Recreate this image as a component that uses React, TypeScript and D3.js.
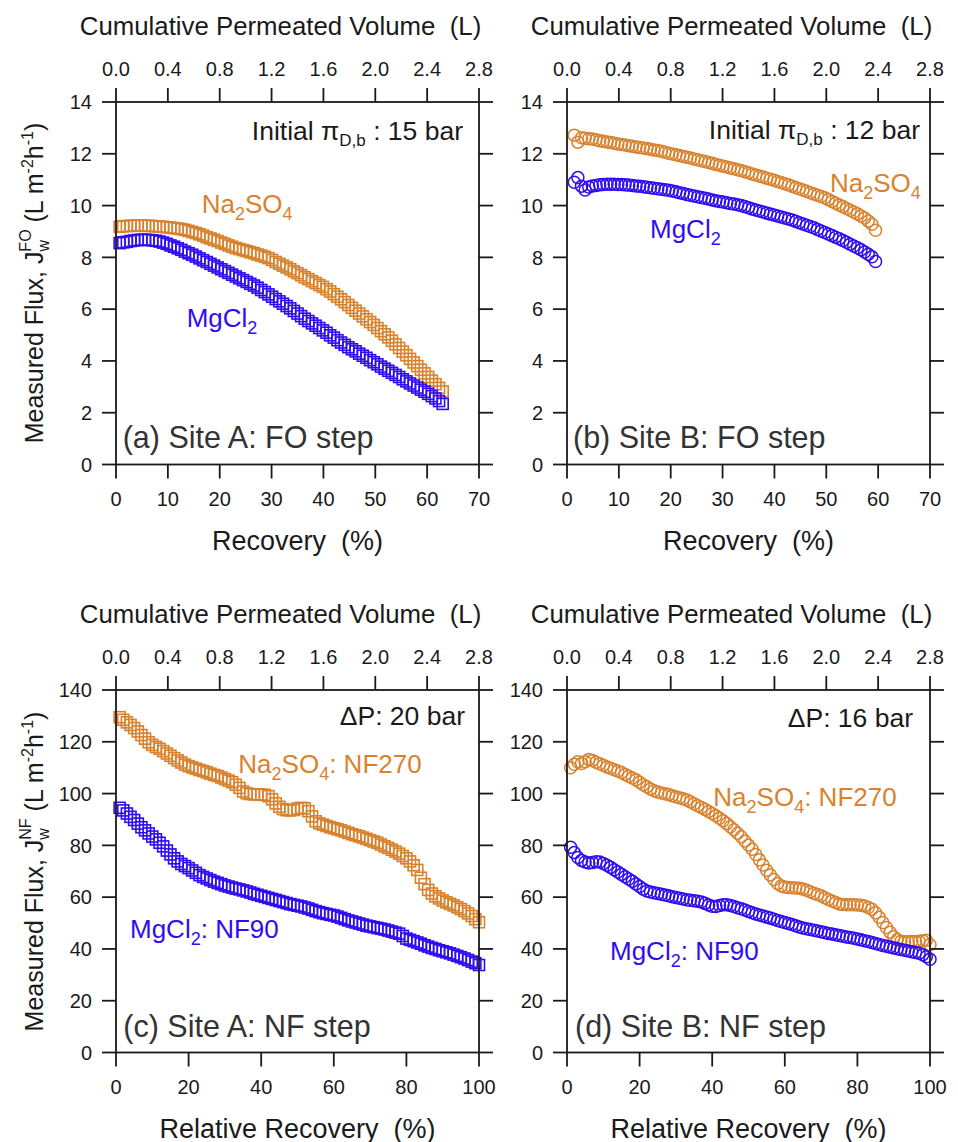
import React from "react";
import * as d3 from "d3";

// ---------- axis ticks ----------
const volTicks = [0, 0.4, 0.8, 1.2, 1.6, 2.0, 2.4, 2.8];
const recTicksFO = [0, 10, 20, 30, 40, 50, 60, 70];
const fluxTicksFO = [0, 2, 4, 6, 8, 10, 12, 14];
const recTicksNF = [0, 20, 40, 60, 80, 100];
const fluxTicksNF = [0, 20, 40, 60, 80, 100, 120, 140];

// ---------- (a) Site A: FO step ----------
const recA = [
  0.7, 1.4, 2.1, 2.8, 3.5, 4.2, 4.9, 5.6, 6.3, 7.0,
  7.7, 8.4, 9.1, 9.8, 10.5, 11.2, 11.9, 12.6, 13.3, 14.0,
  14.7, 15.4, 16.1, 16.8, 17.5, 18.2, 18.9, 19.6, 20.3, 21.0,
  21.7, 22.4, 23.1, 23.8, 24.5, 25.2, 25.9, 26.6, 27.3, 28.0,
  28.7, 29.4, 30.1, 30.8, 31.5, 32.2, 32.9, 33.6, 34.3, 35.0,
  35.7, 36.4, 37.1, 37.8, 38.5, 39.2, 39.9, 40.6, 41.3, 42.0,
  42.7, 43.4, 44.1, 44.8, 45.5, 46.2, 46.9, 47.6, 48.3, 49.0,
  49.7, 50.4, 51.1, 51.8, 52.5, 53.2, 53.9, 54.6, 55.3, 56.0,
  56.7, 57.4, 58.1, 58.8, 59.5, 60.2, 60.9, 61.6, 62.3, 63.0,
];
const fluxA_Na2SO4 = [
  9.18, 9.2, 9.21, 9.22, 9.22, 9.23, 9.22, 9.22, 9.22, 9.21,
  9.2, 9.19, 9.18, 9.16, 9.15, 9.13, 9.11, 9.09, 9.06, 9.02,
  8.98, 8.94, 8.89, 8.84, 8.78, 8.73, 8.68, 8.63, 8.57, 8.52,
  8.46, 8.41, 8.36, 8.32, 8.28, 8.24, 8.2, 8.16, 8.11, 8.07,
  8.02, 7.97, 7.9, 7.82, 7.75, 7.68, 7.61, 7.54, 7.46, 7.39,
  7.31, 7.23, 7.16, 7.08, 7.01, 6.93, 6.86, 6.77, 6.68, 6.58,
  6.48, 6.38, 6.27, 6.16, 6.05, 5.94, 5.83, 5.72, 5.61, 5.5,
  5.39, 5.27, 5.15, 5.03, 4.91, 4.78, 4.64, 4.5, 4.36, 4.22,
  4.08, 3.94, 3.8, 3.66, 3.52, 3.38, 3.24, 3.1, 2.96, 2.82,
];
const fluxA_MgCl2 = [
  8.55, 8.58, 8.6, 8.63, 8.65, 8.67, 8.68, 8.68, 8.67, 8.66,
  8.64, 8.61, 8.57, 8.52, 8.46, 8.41, 8.35, 8.29, 8.22, 8.16,
  8.1, 8.03, 7.96, 7.89, 7.82, 7.75, 7.68, 7.61, 7.54, 7.47,
  7.4, 7.33, 7.26, 7.19, 7.12, 7.05, 6.98, 6.91, 6.83, 6.74,
  6.66, 6.57, 6.48, 6.39, 6.3, 6.21, 6.12, 6.03, 5.93, 5.83,
  5.73, 5.63, 5.54, 5.45, 5.36, 5.27, 5.18, 5.09, 4.99, 4.9,
  4.8, 4.71, 4.62, 4.53, 4.45, 4.37, 4.28, 4.2, 4.12, 4.03,
  3.95, 3.87, 3.78, 3.7, 3.62, 3.54, 3.46, 3.38, 3.29, 3.21,
  3.13, 3.05, 2.97, 2.89, 2.81, 2.73, 2.64, 2.55, 2.45, 2.34,
];

// ---------- (b) Site B: FO step ----------
const recB = [
  1.4, 2.1, 2.8, 3.5, 4.2, 4.9, 5.6, 6.3, 7.0, 7.7,
  8.4, 9.1, 9.8, 10.5, 11.2, 11.9, 12.6, 13.3, 14.0, 14.7,
  15.4, 16.1, 16.8, 17.5, 18.2, 18.9, 19.6, 20.3, 21.0, 21.7,
  22.4, 23.1, 23.8, 24.5, 25.2, 25.9, 26.6, 27.3, 28.0, 28.7,
  29.4, 30.1, 30.8, 31.5, 32.2, 32.9, 33.6, 34.3, 35.0, 35.7,
  36.4, 37.1, 37.8, 38.5, 39.2, 39.9, 40.6, 41.3, 42.0, 42.7,
  43.4, 44.1, 44.8, 45.5, 46.2, 46.9, 47.6, 48.3, 49.0, 49.7,
  50.4, 51.1, 51.8, 52.5, 53.2, 53.9, 54.6, 55.3, 56.0, 56.7,
  57.4, 58.1, 58.8, 59.5,
];
const fluxB_Na2SO4 = [
  12.72, 12.45, 12.62, 12.6, 12.58, 12.57, 12.54, 12.5, 12.48, 12.46,
  12.44, 12.41, 12.38, 12.36, 12.34, 12.31, 12.29, 12.26, 12.24, 12.22,
  12.2, 12.18, 12.15, 12.13, 12.1, 12.06, 12.02, 11.99, 11.96, 11.93,
  11.9, 11.87, 11.84, 11.8, 11.77, 11.73, 11.7, 11.66, 11.63, 11.59,
  11.56, 11.52, 11.49, 11.45, 11.42, 11.38, 11.35, 11.31, 11.27, 11.22,
  11.18, 11.14, 11.1, 11.06, 11.02, 10.98, 10.93, 10.89, 10.84, 10.8,
  10.75, 10.7, 10.65, 10.6, 10.55, 10.5, 10.45, 10.4, 10.35, 10.3,
  10.23, 10.16, 10.09, 10.02, 9.96, 9.89, 9.82, 9.75, 9.68, 9.6,
  9.52, 9.4, 9.28, 9.05,
];
const fluxB_MgCl2 = [
  10.9, 11.08, 10.75, 10.6, 10.72, 10.76, 10.78, 10.8, 10.81, 10.82,
  10.82, 10.82, 10.81, 10.81, 10.8, 10.79, 10.78, 10.76, 10.75, 10.73,
  10.71, 10.69, 10.67, 10.65, 10.63, 10.61, 10.59, 10.56, 10.53, 10.5,
  10.47, 10.43, 10.4, 10.37, 10.34, 10.31, 10.28, 10.25, 10.22, 10.19,
  10.16, 10.14, 10.11, 10.08, 10.06, 10.03, 10.0, 9.96, 9.92, 9.87,
  9.83, 9.79, 9.75, 9.71, 9.67, 9.64, 9.6, 9.56, 9.52, 9.48,
  9.44, 9.39, 9.34, 9.29, 9.24, 9.19, 9.14, 9.08, 9.02, 8.96,
  8.9, 8.84, 8.78, 8.72, 8.65, 8.58, 8.51, 8.44, 8.37, 8.29,
  8.21, 8.12, 8.02, 7.84,
];

// ---------- (c), (d) NF steps ----------
const relRecNF = [
  1, 2, 3, 4, 5, 6, 7, 8, 9, 10,
  11, 12, 13, 14, 15, 16, 17, 18, 19, 20,
  21, 22, 23, 24, 25, 26, 27, 28, 29, 30,
  31, 32, 33, 34, 35, 36, 37, 38, 39, 40,
  41, 42, 43, 44, 45, 46, 47, 48, 49, 50,
  51, 52, 53, 54, 55, 56, 57, 58, 59, 60,
  61, 62, 63, 64, 65, 66, 67, 68, 69, 70,
  71, 72, 73, 74, 75, 76, 77, 78, 79, 80,
  81, 82, 83, 84, 85, 86, 87, 88, 89, 90,
  91, 92, 93, 94, 95, 96, 97, 98, 99, 100,
];
const fluxC_Na2SO4 = [
  129.5, 128.5, 127.5, 126.5, 125.3, 124, 122.6, 121.2, 119.8, 118.8,
  118, 117.3, 116.4, 115.5, 114.6, 113.7, 112.8, 112, 111.2, 110.6,
  110.1, 109.6, 109.1, 108.7, 108.2, 107.7, 107.2, 106.8, 106.2, 105.6,
  105, 104.4, 103.4, 102.2, 100.8, 100.1, 99.8, 99.7, 99.7, 99.6,
  99.5, 99.0, 97.8, 96.2, 94.9, 94.0, 93.6, 93.5, 93.7, 94.2,
  94.5, 94.3, 93.2, 91.2, 89.3, 88.5, 88.0, 87.5, 87.0, 86.6,
  86.2, 85.8, 85.3, 84.8, 84.3, 83.9, 83.5, 83.0, 82.5, 82.0,
  81.5, 81.0, 80.3, 79.6, 79.0, 78.3, 77.6, 76.8, 75.9, 75.0,
  73.8, 72.3, 70.5, 67.5, 65.0, 62.8, 61.4, 60.3, 59.5, 58.7,
  58.0, 57.4, 56.8, 56.1, 55.4, 54.6, 53.7, 52.7, 51.5, 50.3,
];
const fluxC_MgCl2 = [
  94.5, 93.5, 92.3, 91.0, 89.8, 88.4, 87.0, 85.8, 84.6, 83.4,
  82.3, 81.0, 79.6, 78.0, 76.5, 75.0, 73.8, 72.8, 72.0, 71.2,
  70.3, 69.4, 68.5, 67.8, 67.2, 66.6, 66.0, 65.5, 65.0, 64.5,
  64.1, 63.7, 63.3, 63.0, 62.6, 62.2, 61.8, 61.3, 60.9, 60.5,
  60.1, 59.7, 59.3, 58.9, 58.5, 58.1, 57.7, 57.3, 57.0, 56.7,
  56.4, 56.0, 55.6, 55.1, 54.6, 54.2, 53.8, 53.5, 53.2, 52.9,
  52.5, 52.0, 51.5, 51.0, 50.6, 50.2, 49.8, 49.4, 49.0, 48.7,
  48.4, 48.1, 47.8, 47.5, 47.1, 46.7, 46.3, 45.9, 45.0, 44.0,
  43.5, 43.0, 42.5, 42.0, 41.4, 40.9, 40.4, 40.0, 39.5, 39.1,
  38.7, 38.3, 37.8, 37.3, 36.8, 36.3, 35.7, 35.1, 34.5, 33.8,
];
const fluxD_Na2SO4 = [
  110.0, 111.3, 112.3, 111.6, 112.3, 113.2, 112.8, 112.1, 111.5, 110.9,
  110.3, 109.8, 109.2, 108.7, 108.1, 107.4, 106.7, 106.0, 105.3, 104.4,
  103.4, 102.6, 101.8, 101.1, 100.6, 100.2, 99.9, 99.6, 99.2, 98.8,
  98.4, 98.0, 97.5, 96.8, 96.1, 95.3, 94.6, 93.9, 93.1, 92.3,
  91.4, 90.5, 89.5, 88.4, 87.2, 86.0, 84.7, 83.3, 81.7, 80.1,
  78.5, 76.5, 74.4, 72.4, 70.4, 68.6, 66.8, 65.3, 64.3, 63.9,
  63.7, 63.6, 63.5, 63.4, 63.1, 62.7, 62.1, 61.5, 61.0, 60.5,
  59.8, 59.1, 58.5, 57.9, 57.4, 57.2, 57.1, 57.1, 57.1, 57.0,
  56.9, 56.6, 56.0, 55.3, 54.0, 52.2, 50.2, 48.3, 46.4, 44.7,
  43.6, 43.0, 42.8, 42.8, 42.9, 42.9, 43.0, 43.2, 43.4, 41.6,
];
const fluxD_MgCl2 = [
  79.3, 77.2, 75.3, 74.2, 73.6, 73.2, 73.4, 73.7, 73.6, 73.0,
  72.3, 71.5, 70.6, 69.7, 68.8, 67.9, 67.0, 66.1, 65.1, 64.1,
  63.1, 62.4, 62.0, 61.7, 61.4, 61.1, 60.8, 60.5, 60.2, 59.9,
  59.6, 59.3, 59.0, 58.8, 58.6, 58.4, 58.1, 57.6, 57.0, 56.5,
  56.4, 56.8, 57.1, 57.1, 56.8, 56.4, 55.9, 55.5, 55.0, 54.5,
  54.0, 53.5, 53.1, 52.7, 52.3, 51.9, 51.5, 51.0, 50.6, 50.2,
  49.8, 49.4, 49.0, 48.5, 48.1, 47.8, 47.5, 47.2, 46.9, 46.6,
  46.3, 46.0, 45.8, 45.5, 45.2, 44.9, 44.6, 44.4, 44.1, 43.8,
  43.5, 43.2, 42.9, 42.5, 42.1, 41.7, 41.3, 41.0, 40.7, 40.4,
  40.1, 39.8, 39.5, 39.2, 38.9, 38.6, 38.3, 37.8, 37.0, 36.0,
];

// ---------- styling ----------
const FONT = "'Liberation Sans', Arial, Helvetica, sans-serif";
const ORANGE = "#D9822D";
const BLUE = "#300CF2";
const INK = "#1a1a1a";
const PW = 363;
const PH = 362.5;
const TICK = 14;

type Series = { xs: number[]; ys: number[]; color: string; shape: "square" | "circle" };

function Markers({ s, x, y }: { s: Series; x: any; y: any }) {
  return (
    <g>
      {s.xs.map((xv, i) =>
        s.shape === "square" ? (
          <rect
            key={i}
            x={x(xv) - 5.5}
            y={y(s.ys[i]) - 5.5}
            width={11}
            height={11}
            fill="none"
            stroke={s.color}
            strokeWidth={1.6}
          />
        ) : (
          <circle key={i} cx={x(xv)} cy={y(s.ys[i])} r={6} fill="none" stroke={s.color} strokeWidth={1.5} />
        )
      )}
    </g>
  );
}

function Panel(props: {
  left: number;
  top: number;
  xMax: number;
  xTicks: number[];
  yMax: number;
  yTicks: number[];
  xTitle: string;
  series: Series[];
  children?: any;
}) {
  const { left, top, xMax, xTicks, yMax, yTicks, xTitle, series, children } = props;
  const x = d3.scaleLinear().domain([0, xMax]).range([0, PW]);
  const xt = d3.scaleLinear().domain([0, 2.8]).range([0, PW]);
  const y = d3.scaleLinear().domain([0, yMax]).range([PH, 0]);
  return (
    <g transform={`translate(${left},${top})`} fontFamily={FONT}>
      {series.map((s, i) => (
        <Markers key={i} s={s} x={x} y={y} />
      ))}
      <rect x={0} y={0} width={PW} height={PH} fill="none" stroke={INK} strokeWidth={1.8} />
      {/* bottom axis */}
      {xTicks.map((t) => (
        <g key={"b" + t}>
          <line x1={x(t)} x2={x(t)} y1={PH} y2={PH + TICK} stroke={INK} strokeWidth={1.8} />
          <text x={x(t)} y={PH + 41.5} textAnchor="middle" fontSize={20} fill={INK}>
            {t}
          </text>
        </g>
      ))}
      {/* top axis */}
      {volTicks.map((t) => (
        <g key={"t" + t}>
          <line x1={xt(t)} x2={xt(t)} y1={0} y2={-TICK} stroke={INK} strokeWidth={1.8} />
          <text x={xt(t)} y={-26} textAnchor="middle" fontSize={20} fill={INK}>
            {t.toFixed(1)}
          </text>
        </g>
      ))}
      {/* left / right axes */}
      {yTicks.map((t) => (
        <g key={"l" + t}>
          <line x1={-TICK} x2={0} y1={y(t)} y2={y(t)} stroke={INK} strokeWidth={1.8} />
          <line x1={PW} x2={PW + TICK} y1={y(t)} y2={y(t)} stroke={INK} strokeWidth={1.8} />
          <text x={-24} y={y(t)} dy="0.36em" textAnchor="end" fontSize={20} fill={INK}>
            {t}
          </text>
        </g>
      ))}
      <text x={PW / 2 - 17} y={-67} textAnchor="middle" fontSize={25.8} fill={INK}>
        {"Cumulative Permeated Volume\u00A0\u00A0(L)"}
      </text>
      <text x={PW / 2} y={PH + 85} textAnchor="middle" fontSize={27} fill={INK}>
        {xTitle}
      </text>
      {children}
    </g>
  );
}

function Na2SO4({ x, y, suffix }: { x: number; y: number; suffix?: string }) {
  return (
    <text x={x} y={y} fontSize={26} fill={ORANGE} fontFamily={FONT}>
      Na<tspan dy={7} fontSize={18}>2</tspan>
      <tspan dy={-7}>SO</tspan>
      <tspan dy={7} fontSize={18}>4</tspan>
      {suffix ? <tspan dy={-7}>{suffix}</tspan> : null}
    </text>
  );
}

function MgCl2({ x, y, suffix }: { x: number; y: number; suffix?: string }) {
  return (
    <text x={x} y={y} fontSize={26} fill={BLUE} fontFamily={FONT}>
      MgCl<tspan dy={7} fontSize={18}>2</tspan>
      {suffix ? <tspan dy={-7}>{suffix}</tspan> : null}
    </text>
  );
}

function PiLabel({ x, y, bar }: { x: number; y: number; bar: string }) {
  return (
    <text x={x} y={y} fontSize={26.5} fill={INK} textAnchor="end" fontFamily={FONT}>
      {"Initial \u03C0"}
      <tspan dy={6} fontSize={17}>
        D,b
      </tspan>
      <tspan dy={-6}>{" : " + bar}</tspan>
    </text>
  );
}

function YTitle({ cx, cy, sup }: { cx: number; cy: number; sup: string }) {
  return (
    <text
      transform={`translate(${cx},${cy}) rotate(-90)`}
      textAnchor="middle"
      fontSize={25}
      fill={INK}
      fontFamily={FONT}
    >
      {"Measured Flux, J"}
      <tspan dy={6} fontSize={16}>
        w
      </tspan>
      <tspan dx={-11.6} dy={-18} fontSize={16}>
        {sup}
      </tspan>
      <tspan dy={12}>{"\u00A0(L m"}</tspan>
      <tspan dy={-10} fontSize={16}>
        -2
      </tspan>
      <tspan dy={10}>h</tspan>
      <tspan dy={-10} fontSize={16}>
        -1
      </tspan>
      <tspan dy={10}>)</tspan>
    </text>
  );
}

function PanelLabel({ x, y, text }: { x: number; y: number; text: string }) {
  return (
    <text x={x} y={y} fontSize={30.5} fill="#333" fontFamily={FONT}>
      {text}
    </text>
  );
}

export default function App() {
  const sA: Series[] = [
    { xs: recA, ys: fluxA_Na2SO4, color: ORANGE, shape: "square" },
    { xs: recA, ys: fluxA_MgCl2, color: BLUE, shape: "square" },
  ];
  const sB: Series[] = [
    { xs: recB, ys: fluxB_Na2SO4, color: ORANGE, shape: "circle" },
    { xs: recB, ys: fluxB_MgCl2, color: BLUE, shape: "circle" },
  ];
  const sC: Series[] = [
    { xs: relRecNF, ys: fluxC_Na2SO4, color: ORANGE, shape: "square" },
    { xs: relRecNF, ys: fluxC_MgCl2, color: BLUE, shape: "square" },
  ];
  const sD: Series[] = [
    { xs: relRecNF, ys: fluxD_Na2SO4, color: ORANGE, shape: "circle" },
    { xs: relRecNF, ys: fluxD_MgCl2, color: BLUE, shape: "circle" },
  ];
  return (
    <svg
      width={958}
      height={1142}
      viewBox="0 0 958 1142"
      style={{ position: "absolute", left: 0, top: 0, background: "#fff" }}
    >
      <rect width={958} height={1142} fill="#fff" />
      <Panel left={116} top={102} xMax={70} xTicks={recTicksFO} yMax={14} yTicks={fluxTicksFO} xTitle={"Recovery\u00A0\u00A0(%)"} series={sA}>
        <PiLabel x={347} y={38} bar="15 bar" />
        <Na2SO4 x={85.7} y={111} />
        <MgCl2 x={70.7} y={224.7} />
        <PanelLabel x={6.7} y={346} text="(a) Site A: FO step" />
      </Panel>
      <Panel left={567} top={102} xMax={70} xTicks={recTicksFO} yMax={14} yTicks={fluxTicksFO} xTitle={"Recovery\u00A0\u00A0(%)"} series={sB}>
        <PiLabel x={353} y={37.3} bar="12 bar" />
        <Na2SO4 x={263} y={89.7} />
        <MgCl2 x={83} y={136.3} />
        <PanelLabel x={6} y={346} text="(b) Site B: FO step" />
      </Panel>
      <Panel left={116} top={690} xMax={100} xTicks={recTicksNF} yMax={140} yTicks={fluxTicksNF} xTitle={"Relative Recovery\u00A0\u00A0(%)"} series={sC}>
        <text x={349} y={35} fontSize={26.5} fill={INK} textAnchor="end" fontFamily={FONT}>
          {"\u0394P: 20 bar"}
        </text>
        <Na2SO4 x={122.3} y={83.3} suffix=": NF270" />
        <MgCl2 x={14} y={248.3} suffix=": NF90" />
        <PanelLabel x={7.3} y={346.7} text="(c) Site A: NF step" />
      </Panel>
      <Panel left={567} top={690} xMax={100} xTicks={recTicksNF} yMax={140} yTicks={fluxTicksNF} xTitle={"Relative Recovery\u00A0\u00A0(%)"} series={sD}>
        <text x={346} y={36.7} fontSize={26.5} fill={INK} textAnchor="end" fontFamily={FONT}>
          {"\u0394P: 16 bar"}
        </text>
        <Na2SO4 x={146.3} y={116} suffix=": NF270" />
        <MgCl2 x={43} y={270} suffix=": NF90" />
        <PanelLabel x={8} y={346.7} text="(d) Site B: NF step" />
      </Panel>
      <YTitle cx={43} cy={283} sup="FO" />
      <YTitle cx={43} cy={871.5} sup="NF" />
    </svg>
  );
}
